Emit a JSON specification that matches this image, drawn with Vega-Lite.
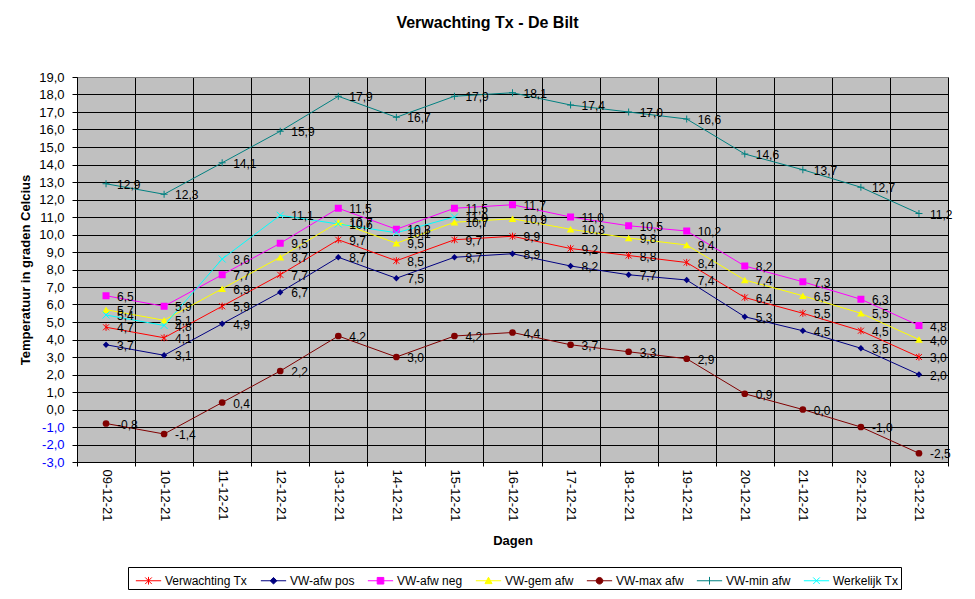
{
  "$schema": "https://vega.github.io/schema/vega-lite/v6.json",
  "width": 871,
  "height": 385,
  "autosize": "none",
  "padding": {"left": 77, "top": 77, "right": 27, "bottom": 137},
  "background": "#ffffff",
  "title": {
    "text": "Verwachting Tx - De Bilt",
    "font": "Liberation Sans",
    "fontSize": 16,
    "fontWeight": "bold",
    "color": "#000000",
    "anchor": "middle",
    "dx": -25,
    "offset": 40
  },
  "config": {
    "locale": {
      "number": {"decimal": ",", "thousands": ".", "grouping": [3], "currency": ["€", ""], "minus": "-"}
    },
    "font": "Liberation Sans",
    "view": {"fill": "#C0C0C0", "stroke": "#808080", "strokeWidth": 1}
  },
  "datasets": {
    "tx": [
      {"dag": "09-12-21", "reeks": "Verwachting Tx", "temp": 4.7},
      {"dag": "10-12-21", "reeks": "Verwachting Tx", "temp": 4.1},
      {"dag": "11-12-21", "reeks": "Verwachting Tx", "temp": 5.9},
      {"dag": "12-12-21", "reeks": "Verwachting Tx", "temp": 7.7},
      {"dag": "13-12-21", "reeks": "Verwachting Tx", "temp": 9.7},
      {"dag": "14-12-21", "reeks": "Verwachting Tx", "temp": 8.5},
      {"dag": "15-12-21", "reeks": "Verwachting Tx", "temp": 9.7},
      {"dag": "16-12-21", "reeks": "Verwachting Tx", "temp": 9.9},
      {"dag": "17-12-21", "reeks": "Verwachting Tx", "temp": 9.2},
      {"dag": "18-12-21", "reeks": "Verwachting Tx", "temp": 8.8},
      {"dag": "19-12-21", "reeks": "Verwachting Tx", "temp": 8.4},
      {"dag": "20-12-21", "reeks": "Verwachting Tx", "temp": 6.4},
      {"dag": "21-12-21", "reeks": "Verwachting Tx", "temp": 5.5},
      {"dag": "22-12-21", "reeks": "Verwachting Tx", "temp": 4.5},
      {"dag": "23-12-21", "reeks": "Verwachting Tx", "temp": 3.0},
      {"dag": "09-12-21", "reeks": "VW-afw pos", "temp": 3.7},
      {"dag": "10-12-21", "reeks": "VW-afw pos", "temp": 3.1},
      {"dag": "11-12-21", "reeks": "VW-afw pos", "temp": 4.9},
      {"dag": "12-12-21", "reeks": "VW-afw pos", "temp": 6.7},
      {"dag": "13-12-21", "reeks": "VW-afw pos", "temp": 8.7},
      {"dag": "14-12-21", "reeks": "VW-afw pos", "temp": 7.5},
      {"dag": "15-12-21", "reeks": "VW-afw pos", "temp": 8.7},
      {"dag": "16-12-21", "reeks": "VW-afw pos", "temp": 8.9},
      {"dag": "17-12-21", "reeks": "VW-afw pos", "temp": 8.2},
      {"dag": "18-12-21", "reeks": "VW-afw pos", "temp": 7.7},
      {"dag": "19-12-21", "reeks": "VW-afw pos", "temp": 7.4},
      {"dag": "20-12-21", "reeks": "VW-afw pos", "temp": 5.3},
      {"dag": "21-12-21", "reeks": "VW-afw pos", "temp": 4.5},
      {"dag": "22-12-21", "reeks": "VW-afw pos", "temp": 3.5},
      {"dag": "23-12-21", "reeks": "VW-afw pos", "temp": 2.0},
      {"dag": "09-12-21", "reeks": "VW-afw neg", "temp": 6.5},
      {"dag": "10-12-21", "reeks": "VW-afw neg", "temp": 5.9},
      {"dag": "11-12-21", "reeks": "VW-afw neg", "temp": 7.7},
      {"dag": "12-12-21", "reeks": "VW-afw neg", "temp": 9.5},
      {"dag": "13-12-21", "reeks": "VW-afw neg", "temp": 11.5},
      {"dag": "14-12-21", "reeks": "VW-afw neg", "temp": 10.3},
      {"dag": "15-12-21", "reeks": "VW-afw neg", "temp": 11.5},
      {"dag": "16-12-21", "reeks": "VW-afw neg", "temp": 11.7},
      {"dag": "17-12-21", "reeks": "VW-afw neg", "temp": 11.0},
      {"dag": "18-12-21", "reeks": "VW-afw neg", "temp": 10.5},
      {"dag": "19-12-21", "reeks": "VW-afw neg", "temp": 10.2},
      {"dag": "20-12-21", "reeks": "VW-afw neg", "temp": 8.2},
      {"dag": "21-12-21", "reeks": "VW-afw neg", "temp": 7.3},
      {"dag": "22-12-21", "reeks": "VW-afw neg", "temp": 6.3},
      {"dag": "23-12-21", "reeks": "VW-afw neg", "temp": 4.8},
      {"dag": "09-12-21", "reeks": "VW-gem afw", "temp": 5.7},
      {"dag": "10-12-21", "reeks": "VW-gem afw", "temp": 5.1},
      {"dag": "11-12-21", "reeks": "VW-gem afw", "temp": 6.9},
      {"dag": "12-12-21", "reeks": "VW-gem afw", "temp": 8.7},
      {"dag": "13-12-21", "reeks": "VW-gem afw", "temp": 10.7},
      {"dag": "14-12-21", "reeks": "VW-gem afw", "temp": 9.5},
      {"dag": "15-12-21", "reeks": "VW-gem afw", "temp": 10.7},
      {"dag": "16-12-21", "reeks": "VW-gem afw", "temp": 10.9},
      {"dag": "17-12-21", "reeks": "VW-gem afw", "temp": 10.3},
      {"dag": "18-12-21", "reeks": "VW-gem afw", "temp": 9.8},
      {"dag": "19-12-21", "reeks": "VW-gem afw", "temp": 9.4},
      {"dag": "20-12-21", "reeks": "VW-gem afw", "temp": 7.4},
      {"dag": "21-12-21", "reeks": "VW-gem afw", "temp": 6.5},
      {"dag": "22-12-21", "reeks": "VW-gem afw", "temp": 5.5},
      {"dag": "23-12-21", "reeks": "VW-gem afw", "temp": 4.0},
      {"dag": "09-12-21", "reeks": "VW-max afw", "temp": -0.8},
      {"dag": "10-12-21", "reeks": "VW-max afw", "temp": -1.4},
      {"dag": "11-12-21", "reeks": "VW-max afw", "temp": 0.4},
      {"dag": "12-12-21", "reeks": "VW-max afw", "temp": 2.2},
      {"dag": "13-12-21", "reeks": "VW-max afw", "temp": 4.2},
      {"dag": "14-12-21", "reeks": "VW-max afw", "temp": 3.0},
      {"dag": "15-12-21", "reeks": "VW-max afw", "temp": 4.2},
      {"dag": "16-12-21", "reeks": "VW-max afw", "temp": 4.4},
      {"dag": "17-12-21", "reeks": "VW-max afw", "temp": 3.7},
      {"dag": "18-12-21", "reeks": "VW-max afw", "temp": 3.3},
      {"dag": "19-12-21", "reeks": "VW-max afw", "temp": 2.9},
      {"dag": "20-12-21", "reeks": "VW-max afw", "temp": 0.9},
      {"dag": "21-12-21", "reeks": "VW-max afw", "temp": 0.0},
      {"dag": "22-12-21", "reeks": "VW-max afw", "temp": -1.0},
      {"dag": "23-12-21", "reeks": "VW-max afw", "temp": -2.5},
      {"dag": "09-12-21", "reeks": "VW-min afw", "temp": 12.9},
      {"dag": "10-12-21", "reeks": "VW-min afw", "temp": 12.3},
      {"dag": "11-12-21", "reeks": "VW-min afw", "temp": 14.1},
      {"dag": "12-12-21", "reeks": "VW-min afw", "temp": 15.9},
      {"dag": "13-12-21", "reeks": "VW-min afw", "temp": 17.9},
      {"dag": "14-12-21", "reeks": "VW-min afw", "temp": 16.7},
      {"dag": "15-12-21", "reeks": "VW-min afw", "temp": 17.9},
      {"dag": "16-12-21", "reeks": "VW-min afw", "temp": 18.1},
      {"dag": "17-12-21", "reeks": "VW-min afw", "temp": 17.4},
      {"dag": "18-12-21", "reeks": "VW-min afw", "temp": 17.0},
      {"dag": "19-12-21", "reeks": "VW-min afw", "temp": 16.6},
      {"dag": "20-12-21", "reeks": "VW-min afw", "temp": 14.6},
      {"dag": "21-12-21", "reeks": "VW-min afw", "temp": 13.7},
      {"dag": "22-12-21", "reeks": "VW-min afw", "temp": 12.7},
      {"dag": "23-12-21", "reeks": "VW-min afw", "temp": 11.2},
      {"dag": "09-12-21", "reeks": "Werkelijk Tx", "temp": 5.4},
      {"dag": "10-12-21", "reeks": "Werkelijk Tx", "temp": 4.8},
      {"dag": "11-12-21", "reeks": "Werkelijk Tx", "temp": 8.6},
      {"dag": "12-12-21", "reeks": "Werkelijk Tx", "temp": 11.1},
      {"dag": "13-12-21", "reeks": "Werkelijk Tx", "temp": 10.6},
      {"dag": "14-12-21", "reeks": "Werkelijk Tx", "temp": 10.1},
      {"dag": "15-12-21", "reeks": "Werkelijk Tx", "temp": 11.0}
    ]
  },
  "data": {"name": "tx"},
  "encoding": {
    "x": {
      "field": "dag",
      "type": "nominal",
      "sort": null,
      "scale": {"type": "band", "paddingInner": 0, "paddingOuter": 0},
      "axis": {
        "title": "Dagen",
        "titleFontSize": 13,
        "titleFontWeight": "bold",
        "titleColor": "#000000",
        "titlePadding": 13,
        "labelAngle": 90,
        "labelFontSize": 13,
        "labelColor": "#000000",
        "labelPadding": 3,
        "tickBand": "extent",
        "tickSize": 4,
        "tickColor": "#000000",
        "domainColor": "#000000",
        "grid": true,
        "gridColor": "#000000",
        "gridOpacity": 1
      }
    },
    "y": {
      "field": "temp",
      "type": "quantitative",
      "scale": {"domain": [-3, 19], "nice": false, "zero": false},
      "axis": {
        "title": "Temperatuur in graden Celcius",
        "titleFontSize": 13,
        "titleFontWeight": "bold",
        "titleColor": "#000000",
        "titlePadding": 6,
        "values": [-3, -2, -1, 0, 1, 2, 3, 4, 5, 6, 7, 8, 9, 10, 11, 12, 13, 14, 15, 16, 17, 18, 19],
        "format": ".1f",
        "labelFontSize": 13,
        "labelPadding": 8,
        "labelColor": {"condition": {"test": "datum.value < 0", "value": "#0000FF"}, "value": "#000000"},
        "tickSize": 5,
        "tickColor": "#000000",
        "domainColor": "#000000",
        "grid": true,
        "gridColor": {"condition": {"test": "datum.value == 19", "value": "#808080"}, "value": "#000000"},
        "gridOpacity": 1
      }
    }
  },
  "layer": [
    {
      "mark": {"type": "line", "strokeWidth": 1},
      "encoding": {
        "color": {
          "field": "reeks",
          "type": "nominal",
          "scale": {
            "domain": ["Verwachting Tx", "VW-afw pos", "VW-afw neg", "VW-gem afw", "VW-max afw", "VW-min afw", "Werkelijk Tx"],
            "range": ["#FF0000", "#000080", "#FF00FF", "#FFFF00", "#800000", "#008080", "#00FFFF"]
          },
          "legend": {
            "orient": "none",
            "legendX": 51,
            "legendY": 490,
            "direction": "horizontal",
            "columns": 7,
            "title": null,
            "strokeColor": "#000000",
            "fillColor": "#ffffff",
            "padding": 2,
            "symbolSize": 484,
            "symbolOffset": 7,
            "symbolStrokeWidth": 1,
            "symbolOpacity": 1,
            "symbolType": {"expr": "['M-1.15,0H1.15M-0.3,-0.3L0.3,0.3M-0.3,0.3L0.3,-0.3M0,-0.35V0.35','M-1.15,0H1.15M0,-0.3L0.3,0L0,0.3L-0.3,0Z','M-1.15,0H1.15M-0.3,-0.3H0.3V0.3H-0.3Z','M-1.15,0H1.15M0,-0.32L0.32,0.26H-0.32Z','M-1.15,0H1.15M-0.3,0A0.3,0.3,0,1,0,0.3,0A0.3,0.3,0,1,0,-0.3,0Z','M-1.15,0H1.15M0,-0.35V0.35','M-1.15,0H1.15M-0.3,-0.3L0.3,0.3M-0.3,0.3L0.3,-0.3'][indexof(['Verwachting Tx','VW-afw pos','VW-afw neg','VW-gem afw','VW-max afw','VW-min afw','Werkelijk Tx'], datum.value)]"},
            "symbolFillColor": {"expr": "scale('color', datum.value)"},
            "labelFontSize": 12,
            "labelColor": "#000000",
            "labelOffset": 5,
            "columnPadding": 7
          }
        }
      }
    },
    {
      "transform": [{"filter": "datum.reeks == 'Verwachting Tx'"}],
      "mark": {"type": "point", "shape": "M-1,-1L1,1M-1,1L1,-1M0,-1.2V1.2", "size": 36, "filled": false, "color": "#FF0000", "opacity": 1, "strokeWidth": 1}
    },
    {
      "transform": [{"filter": "datum.reeks == 'VW-afw pos'"}],
      "mark": {"type": "point", "shape": "diamond", "size": 40, "filled": true, "color": "#000080", "opacity": 1}
    },
    {
      "transform": [{"filter": "datum.reeks == 'VW-afw neg'"}],
      "mark": {"type": "point", "shape": "square", "size": 49, "filled": true, "color": "#FF00FF", "opacity": 1}
    },
    {
      "transform": [{"filter": "datum.reeks == 'VW-gem afw'"}],
      "mark": {"type": "point", "shape": "triangle-up", "size": 60, "filled": true, "color": "#FFFF00", "opacity": 1}
    },
    {
      "transform": [{"filter": "datum.reeks == 'VW-max afw'"}],
      "mark": {"type": "point", "shape": "circle", "size": 45, "filled": true, "color": "#800000", "opacity": 1}
    },
    {
      "transform": [{"filter": "datum.reeks == 'VW-min afw'"}],
      "mark": {"type": "point", "shape": "M-1,0H1M0,-1V1", "size": 49, "filled": false, "color": "#008080", "opacity": 1, "strokeWidth": 1}
    },
    {
      "transform": [{"filter": "datum.reeks == 'Werkelijk Tx'"}],
      "mark": {"type": "point", "shape": "M-1,-1L1,1M-1,1L1,-1", "size": 49, "filled": false, "color": "#00FFFF", "opacity": 1, "strokeWidth": 1}
    },
    {
      "mark": {"type": "text", "align": "left", "baseline": "middle", "dx": 11, "dy": 1, "fontSize": 12, "font": "Liberation Sans", "color": "#000000"},
      "encoding": {
        "text": {"field": "temp", "type": "quantitative", "format": ".1f"}
      }
    }
  ]
}
